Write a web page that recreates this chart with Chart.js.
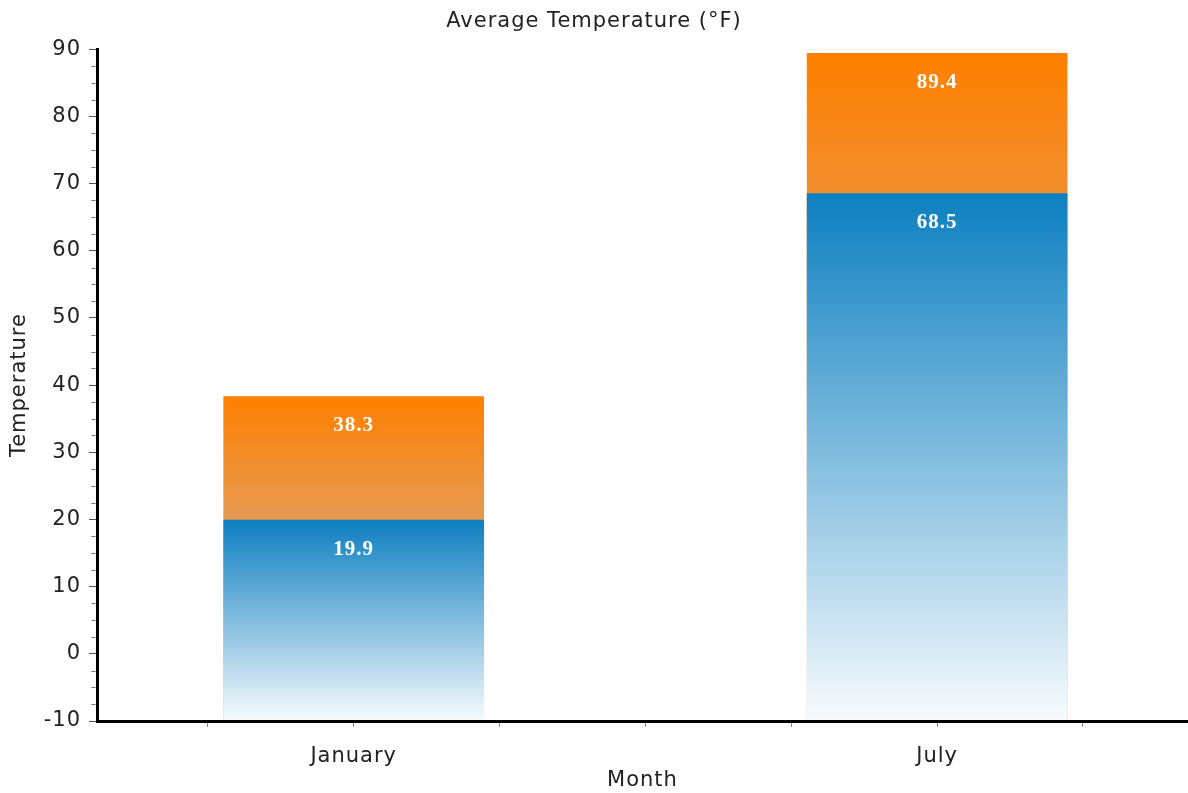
<!DOCTYPE html>
<html>
<head>
<meta charset="utf-8">
<script src="https://cdn.jsdelivr.net/npm/chart.js@4"></script>
<style>
  html, body { margin: 0; padding: 0; background: #fff; }
  #wrap { width: 1188px; height: 793px; }
</style>
</head>
<body>
<div id="wrap"><canvas id="myChart"></canvas></div>
<script>
const months = ['January', 'July'];
const lowTemps = [19.9, 68.5];
const highTemps = [38.3, 89.4];
const yMin = -10;
const yMax = 90;

const FONT = '"DejaVu Sans", Verdana, sans-serif';

// gradient that runs from the top of each bar down to its base
function barGradient(topColor, bottomColor) {
    return function(c) {
        const chart = c.chart;
        if (!chart.chartArea || !c.raw) return topColor;
        const y = chart.scales.y;
        const y0 = y.getPixelForValue(c.raw.y[1]);
        const y1 = y.getPixelForValue(c.raw.y[0]);
        const g = chart.ctx.createLinearGradient(0, y0, 0, y1);
        g.addColorStop(0, topColor);
        g.addColorStop(1, bottomColor);
        return g;
    };
}

// letter spacing to get closer to the wide bitmap font of the original
const spacing = {
    id: 'spacing',
    beforeLayout(chart) { chart.ctx.letterSpacing = '1px'; },
    beforeDraw(chart) { chart.ctx.letterSpacing = '1px'; }
};

// short minor ticks on the y axis every 2.5
const minorTicks = {
    id: 'minorTicks',
    afterDraw(chart) {
        const {ctx, scales: {y}} = chart;
        const x = y.right - 1.5;
        ctx.save();
        ctx.strokeStyle = '#777';
        ctx.lineWidth = 1;
        for (let v = yMin; v <= yMax; v += 2.5) {
            if (v % 10 === 0) continue;
            const py = Math.round(y.getPixelForValue(v)) + 0.5;
            ctx.beginPath();
            ctx.moveTo(x, py);
            ctx.lineTo(x - 4, py);
            ctx.stroke();
        }
        ctx.restore();
    }
};

// value labels near the top of every bar
const valueLabels = {
    id: 'valueLabels',
    afterDatasetsDraw(chart) {
        const ctx = chart.ctx;
        ctx.save();
        ctx.letterSpacing = '1px';
        ctx.font = 'bold 21px "Liberation Serif", "Times New Roman", serif';
        ctx.fillStyle = '#ffffff';
        ctx.textAlign = 'center';
        ctx.textBaseline = 'middle';
        chart.data.datasets.forEach((ds, i) => {
            chart.getDatasetMeta(i).data.forEach((bar, j) => {
                ctx.fillText(ds.data[j].y[1].toFixed(1), bar.x, bar.y + 29);
            });
        });
        ctx.restore();
    }
};

const ctx = document.getElementById('myChart').getContext('2d');

const myChart = new Chart(ctx, {
    type: 'bar',
    data: {
        datasets: [{
            label: 'Low',
            data: months.map((m, i) => ({x: i, y: [yMin, lowTemps[i]]})),
            backgroundColor: barGradient('#0d7fc0', '#f8fbfd'),
            borderWidth: 0
        }, {
            label: 'High',
            data: months.map((m, i) => ({x: i, y: [yMin, highTemps[i]]})),
            backgroundColor: barGradient('#ff8000', '#bcc4d8'),
            borderWidth: 0
        }]
    },
    options: {
        responsive: true,
        maintainAspectRatio: false,
        animation: false,
        grouped: false,
        barThickness: 260,
        layout: { padding: 0 },
        plugins: {
            legend: { display: false },
            tooltip: { enabled: false },
            title: {
                display: true,
                text: 'Average Temperature (°F)',
                color: '#222',
                font: { family: FONT, size: 21, weight: 'normal' },
                padding: { top: 9, bottom: 15 }
            }
        },
        scales: {
            x: {
                type: 'linear',
                offset: false,
                min: -0.44,
                max: 1.43,
                afterFit: s => { s.height = 72; },
                afterBuildTicks: s => {
                    s.ticks = s.ticks.filter(t => Math.abs(t.value * 4 - Math.round(t.value * 4)) < 1e-6);
                },
                border: { color: '#000', width: 3, z: 1 },
                grid: {
                    offset: false,
                    drawOnChartArea: false,
                    tickLength: 6,
                    tickColor: '#888'
                },
                ticks: {
                    stepSize: 0.25,
                    autoSkip: false,
                    maxRotation: 0,
                    padding: 17,
                    color: '#222',
                    font: { family: FONT, size: 21 },
                    callback: function(value) {
                        return Number.isInteger(value) && months[value] ? months[value] : '';
                    }
                },
                title: {
                    display: true,
                    text: 'Month',
                    color: '#222',
                    font: { family: FONT, size: 21 },
                    padding: { top: 0, bottom: 0 }
                }
            },
            y: {
                min: yMin,
                max: yMax,
                afterFit: s => { s.width = 97; },
                border: { color: '#000', width: 3, z: 1 },
                grid: {
                    drawOnChartArea: false,
                    tickLength: 8,
                    tickColor: '#555'
                },
                ticks: {
                    stepSize: 10,
                    padding: 8,
                    color: '#222',
                    font: { family: FONT, size: 21 }
                },
                title: {
                    display: true,
                    text: 'Temperature',
                    color: '#222',
                    font: { family: FONT, size: 21 },
                    padding: { top: 7, bottom: 0 }
                }
            }
        }
    },
    plugins: [spacing, minorTicks, valueLabels]
});
</script>
</body>
</html>
